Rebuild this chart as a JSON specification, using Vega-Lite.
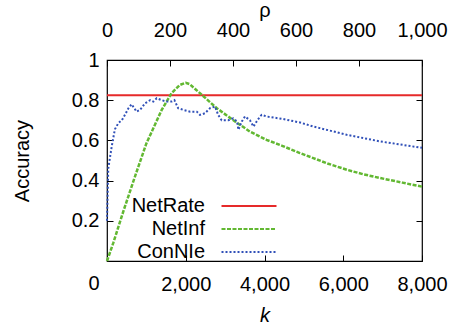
{
  "$schema": "https://vega.github.io/schema/vega-lite/v6.json",
  "width": 315,
  "height": 201,
  "autosize": "none",
  "padding": {"left": 107, "top": 60, "right": 37, "bottom": 68},
  "background": "white",
  "config": {
    "font": "Liberation Sans",
    "view": {"stroke": "black", "strokeWidth": 1.2},
    "axis": {
      "grid": false,
      "domain": false,
      "labelFont": "Liberation Sans",
      "titleFont": "Liberation Sans",
      "labelFontSize": 20,
      "titleFontSize": 20,
      "titleFontWeight": "normal",
      "labelColor": "black",
      "titleColor": "black",
      "tickColor": "black",
      "tickSize": -6,
      "labelFlush": false,
      "labelOverlap": false
    },
    "legend": {
      "labelFont": "Liberation Sans",
      "labelFontSize": 20,
      "labelColor": "black"
    }
  },
  "datasets": {
    "netrate": [{"series": "NetRate", "acc": 0.825}],
    "netinf": [
      {"series": "NetInf", "k": 0, "acc": 0},
      {"series": "NetInf", "k": 160, "acc": 0.09},
      {"series": "NetInf", "k": 430, "acc": 0.256},
      {"series": "NetInf", "k": 710, "acc": 0.42},
      {"series": "NetInf", "k": 1000, "acc": 0.585},
      {"series": "NetInf", "k": 1390, "acc": 0.752},
      {"series": "NetInf", "k": 1640, "acc": 0.835},
      {"series": "NetInf", "k": 1850, "acc": 0.876},
      {"series": "NetInf", "k": 2000, "acc": 0.887},
      {"series": "NetInf", "k": 2100, "acc": 0.88},
      {"series": "NetInf", "k": 2360, "acc": 0.835},
      {"series": "NetInf", "k": 2790, "acc": 0.76},
      {"series": "NetInf", "k": 3210, "acc": 0.7},
      {"series": "NetInf", "k": 3630, "acc": 0.644},
      {"series": "NetInf", "k": 4050, "acc": 0.603},
      {"series": "NetInf", "k": 4450, "acc": 0.573},
      {"series": "NetInf", "k": 4900, "acc": 0.537},
      {"series": "NetInf", "k": 5240, "acc": 0.512},
      {"series": "NetInf", "k": 5600, "acc": 0.485},
      {"series": "NetInf", "k": 6090, "acc": 0.454},
      {"series": "NetInf", "k": 6500, "acc": 0.432},
      {"series": "NetInf", "k": 6930, "acc": 0.413},
      {"series": "NetInf", "k": 7500, "acc": 0.39},
      {"series": "NetInf", "k": 8000, "acc": 0.37}
    ],
    "connie": [
      {"series": "ConNIe", "rho": 0, "acc": 0.2},
      {"series": "ConNIe", "rho": 4, "acc": 0.46},
      {"series": "ConNIe", "rho": 15, "acc": 0.57},
      {"series": "ConNIe", "rho": 25, "acc": 0.655},
      {"series": "ConNIe", "rho": 36, "acc": 0.686},
      {"series": "ConNIe", "rho": 47, "acc": 0.7},
      {"series": "ConNIe", "rho": 57, "acc": 0.727},
      {"series": "ConNIe", "rho": 68, "acc": 0.76},
      {"series": "ConNIe", "rho": 78, "acc": 0.78},
      {"series": "ConNIe", "rho": 94, "acc": 0.743},
      {"series": "ConNIe", "rho": 105, "acc": 0.752},
      {"series": "ConNIe", "rho": 121, "acc": 0.785},
      {"series": "ConNIe", "rho": 137, "acc": 0.8},
      {"series": "ConNIe", "rho": 147, "acc": 0.793},
      {"series": "ConNIe", "rho": 158, "acc": 0.81},
      {"series": "ConNIe", "rho": 174, "acc": 0.8},
      {"series": "ConNIe", "rho": 190, "acc": 0.793},
      {"series": "ConNIe", "rho": 205, "acc": 0.793},
      {"series": "ConNIe", "rho": 214, "acc": 0.8},
      {"series": "ConNIe", "rho": 226, "acc": 0.76},
      {"series": "ConNIe", "rho": 242, "acc": 0.752},
      {"series": "ConNIe", "rho": 264, "acc": 0.743},
      {"series": "ConNIe", "rho": 285, "acc": 0.743},
      {"series": "ConNIe", "rho": 295, "acc": 0.727},
      {"series": "ConNIe", "rho": 311, "acc": 0.735},
      {"series": "ConNIe", "rho": 327, "acc": 0.76},
      {"series": "ConNIe", "rho": 343, "acc": 0.768},
      {"series": "ConNIe", "rho": 353, "acc": 0.727},
      {"series": "ConNIe", "rho": 364, "acc": 0.7},
      {"series": "ConNIe", "rho": 385, "acc": 0.7},
      {"series": "ConNIe", "rho": 401, "acc": 0.71},
      {"series": "ConNIe", "rho": 413, "acc": 0.694},
      {"series": "ConNIe", "rho": 417, "acc": 0.653},
      {"series": "ConNIe", "rho": 428, "acc": 0.694},
      {"series": "ConNIe", "rho": 438, "acc": 0.719},
      {"series": "ConNIe", "rho": 454, "acc": 0.7},
      {"series": "ConNIe", "rho": 465, "acc": 0.669},
      {"series": "ConNIe", "rho": 475, "acc": 0.694},
      {"series": "ConNIe", "rho": 486, "acc": 0.719},
      {"series": "ConNIe", "rho": 491, "acc": 0.727},
      {"series": "ConNIe", "rho": 507, "acc": 0.719},
      {"series": "ConNIe", "rho": 560, "acc": 0.706},
      {"series": "ConNIe", "rho": 613, "acc": 0.689},
      {"series": "ConNIe", "rho": 655, "acc": 0.669},
      {"series": "ConNIe", "rho": 676, "acc": 0.661},
      {"series": "ConNIe", "rho": 761, "acc": 0.628},
      {"series": "ConNIe", "rho": 867, "acc": 0.595},
      {"series": "ConNIe", "rho": 1000, "acc": 0.563}
    ]
  },
  "layer": [
    {
      "data": {"name": "netrate"},
      "mark": {"type": "rule", "strokeWidth": 2},
      "encoding": {
        "y": {
          "field": "acc", "type": "quantitative",
          "scale": {"domain": [0, 1], "nice": false},
          "axis": {
            "title": "Accuracy",
            "values": [0, 0.2, 0.4, 0.6, 0.8, 1],
            "format": "~g",
            "labelPadding": 14,
            "labelOffset": {"condition": {"test": "datum.value == 0", "value": 22}, "value": 0},
            "titlePadding": 39
          }
        },
        "color": {
          "field": "series", "type": "nominal",
          "scale": {"domain": ["NetRate", "NetInf", "ConNIe"], "range": ["#e62a2a", "#62b832", "#3050b8"]},
          "legend": {
            "title": null,
            "orient": "none",
            "legendX": 132,
            "legendY": 136,
            "padding": 0,
            "symbolType": "M-5,0H5",
            "symbolSize": 121,
            "symbolStrokeWidth": 2,
            "labelAlign": "right",
            "labelOffset": -54,
            "rowPadding": 3
          }
        },
        "strokeDash": {
          "field": "series", "type": "nominal",
          "scale": {"domain": ["NetRate", "NetInf", "ConNIe"], "range": [[1, 0], [4, 1.5], [2, 2]]},
          "legend": null
        }
      }
    },
    {
      "data": {"name": "netinf"},
      "mark": {"type": "line", "strokeWidth": 2.5},
      "encoding": {
        "x": {
          "field": "k", "type": "quantitative",
          "scale": {"domain": [0, 8000], "nice": false},
          "axis": {
            "orient": "bottom",
            "title": "k",
            "titleFontStyle": "italic",
            "values": [0, 2000, 4000, 6000, 8000],
            "labelExpr": "datum.value == 0 ? '' : format(datum.value, ',d')",
            "labelPadding": 19,
            "titlePadding": 11
          }
        },
        "y": {"field": "acc", "type": "quantitative", "scale": {"domain": [0, 1], "nice": false}, "axis": null},
        "color": {"field": "series", "type": "nominal"},
        "strokeDash": {"field": "series", "type": "nominal"}
      }
    },
    {
      "data": {"name": "connie"},
      "mark": {"type": "line", "strokeWidth": 2},
      "encoding": {
        "x": {
          "field": "rho", "type": "quantitative",
          "scale": {"domain": [0, 1000], "nice": false},
          "axis": {
            "orient": "top",
            "title": "ρ",
            "values": [0, 200, 400, 600, 800, 1000],
            "format": ",d",
            "labelPadding": 26,
            "titlePadding": 0
          }
        },
        "y": {"field": "acc", "type": "quantitative", "scale": {"domain": [0, 1], "nice": false}, "axis": null},
        "color": {"field": "series", "type": "nominal"},
        "strokeDash": {"field": "series", "type": "nominal"}
      }
    },
    {
      "data": {"name": "netrate"},
      "mark": {"type": "rule", "strokeOpacity": 0},
      "encoding": {
        "y": {
          "field": "acc", "type": "quantitative",
          "scale": {"domain": [0, 1], "nice": false},
          "axis": {"orient": "right", "title": null, "labels": false, "values": [0.2, 0.4, 0.6, 0.8]}
        }
      }
    }
  ],
  "resolve": {"scale": {"x": "independent", "y": "independent"}, "axis": {"x": "independent", "y": "independent"}}
}
